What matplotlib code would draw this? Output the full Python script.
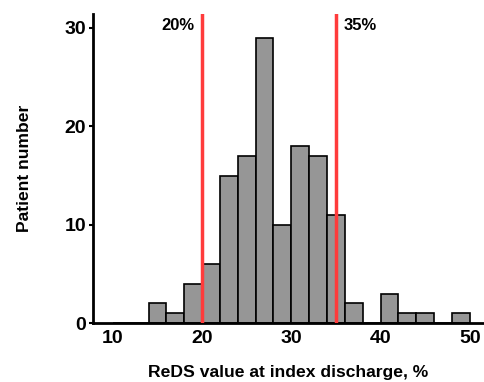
import matplotlib
matplotlib.use("Agg")
import matplotlib.pyplot as plt

plt.rcParams['font.family'] = ['Liberation Sans', 'DejaVu Sans']
plt.rcParams['font.weight'] = 'bold'

# histogram bins (left edges, width 2) and patient counts
bin_left = [10, 12, 14, 16, 18, 20, 22, 24, 26, 28, 30, 32, 34, 36, 38, 40, 42, 44, 46, 48]
counts = [0, 0, 2, 1, 4, 6, 15, 17, 29, 10, 18, 17, 11, 2, 0, 3, 1, 1, 0, 1]
bin_width = 2
cutoffs = [20, 35]
cutoff_labels = ["20%", "35%"]

fig = plt.figure(figsize=(4.84, 3.82), dpi=100)
ax = fig.add_axes([0.192, 0.154, 0.808, 0.809])

ax.bar(bin_left, counts, width=bin_width, align='edge', color='#969696',
       edgecolor='black', linewidth=1.2, zorder=2)

for c in cutoffs:
    ax.axvline(c, color='#ff3b3b', linewidth=2.5, zorder=3)

ax.text(cutoffs[0] - 0.9, 30.2, cutoff_labels[0], ha='right', va='center',
        fontsize=12, fontweight='bold')
ax.text(cutoffs[1] + 0.9, 30.2, cutoff_labels[1], ha='left', va='center',
        fontsize=12, fontweight='bold')

ax.set_xlim(7.76, 51.6)
ax.set_ylim(0, 31.4)
ax.set_xticks([10, 20, 30, 40, 50])
ax.set_yticks([0, 10, 20, 30])
ax.tick_params(axis='both', labelsize=14, width=1.5)
ax.tick_params(axis='x', length=0, pad=5)
ax.tick_params(axis='y', length=3, pad=2)
for lab in ax.get_xticklabels() + ax.get_yticklabels():
    lab.set_fontweight('bold')

for s in ['top', 'right']:
    ax.spines[s].set_visible(False)
for s in ['left', 'bottom']:
    ax.spines[s].set_linewidth(2)

ax.set_xlabel("ReDS value at index discharge, %", fontsize=12.6,
              fontweight='bold', labelpad=13)
ax.set_ylabel("Patient number", fontsize=12.6, fontweight='bold', labelpad=23)

fig.savefig("out.png", dpi=100)
